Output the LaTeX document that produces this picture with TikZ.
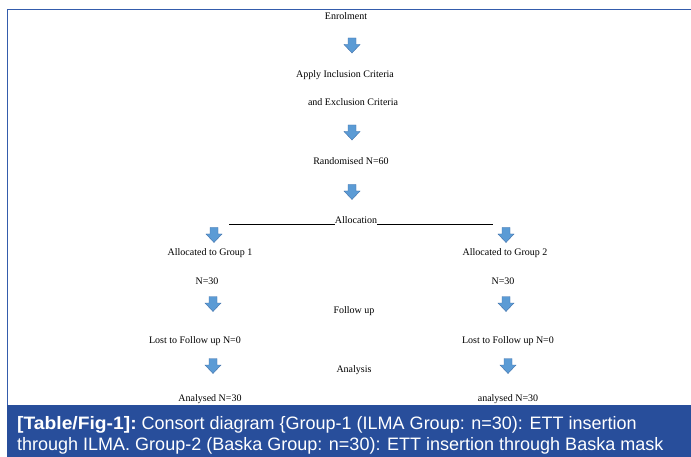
\documentclass[tikz,border=0pt]{standalone}
\usepackage{fontspec}
\usepackage{graphicx}
\setmainfont{Liberation Serif}
\newfontfamily\capfont{Liberation Sans}
\definecolor{frameblue}{RGB}{40,78,155}
\definecolor{lineblue}{RGB}{52,92,172}
\definecolor{arrowfill}{RGB}{91,155,213}
\definecolor{arrowline}{RGB}{65,113,170}
\tikzset{
  lbl/.style={anchor=base, inner sep=0pt, font=\fontsize{10}{12}\selectfont},
  captxt/.style={anchor=base west, inner sep=0pt, text=white, font=\capfont\fontsize{18}{21}\selectfont},
  downarrow/.pic={
    \fill[arrowfill, draw=arrowline, line width=0.4pt]
      (-4,-7.5) -- (4,-7.5) -- (4,-1) -- (8,-1) -- (0,7.5) -- (-8,-1) -- (-4,-1) -- cycle;
  }
}
\begin{document}
\begin{tikzpicture}[x=1pt, y=-1pt]
\useasboundingbox (0,0) rectangle (691,457);
\fill[white] (0,0) rectangle (691,457);
% frame
\draw[lineblue, line width=1.8pt] (7.5,457) -- (7.5,9.5) -- (691,9.5);
\fill[frameblue] (6.6,405) rectangle (691,457);

% texts
\node[lbl] (enrol) at (346,20) {Enrolment};
\node[lbl] (incl) at (345,78) {Apply Inclusion Criteria};
\node[lbl] (excl) at (353,106) {and Exclusion Criteria};
\node[lbl] (rand) at (351,165) {Randomised N=60};
\node[lbl] (alloc) at (356,224) {Allocation};
\node[lbl] (g1) at (210,256) {Allocated to Group 1};
\node[lbl] (g2) at (505,256) {Allocated to Group 2};
\node[lbl] (n1) at (207,284) {N=30};
\node[lbl] (n2) at (503,284) {N=30};
\node[lbl] (follow) at (354,313) {Follow up};
\node[lbl] (lost1) at (195,343) {Lost to Follow up N=0};
\node[lbl] (lost2) at (508,343) {Lost to Follow up N=0};
\node[lbl] (analysis) at (354,372) {Analysis};
\node[lbl] (an1) at (210,401) {Analysed N=30};
\node[lbl] (an2) at (508,401) {analysed N=30};

% allocation line
\coordinate (allocL) at (229,224.5);
\coordinate (allocR) at (493,224.5);
\draw[line width=0.45pt] (allocL) -- (alloc.base west |- allocL);
\draw[line width=0.45pt] (alloc.base east |- allocR) -- (allocR);

% block arrows
\pic at (352,45.5) {downarrow};
\pic at (352,132.5) {downarrow};
\pic at (352,192) {downarrow};
\pic at (214,235) {downarrow};
\pic at (506,235) {downarrow};
\pic at (213,304) {downarrow};
\pic at (506,304) {downarrow};
\pic at (213,366) {downarrow};
\pic at (508,366) {downarrow};

% caption
\node[captxt] (cap1) at (17,429)
  {\scalebox{1.07}[1]{\textbf{[Table/Fig-1]:}} Consort diagram \{Group-1 (ILMA Group: n=30): ETT insertion};
\node[captxt] (cap2) at (17,450)
  {through ILMA. Group-2 (Baska Group: n=30): ETT insertion through Baska mask};
\end{tikzpicture}
\end{document}
